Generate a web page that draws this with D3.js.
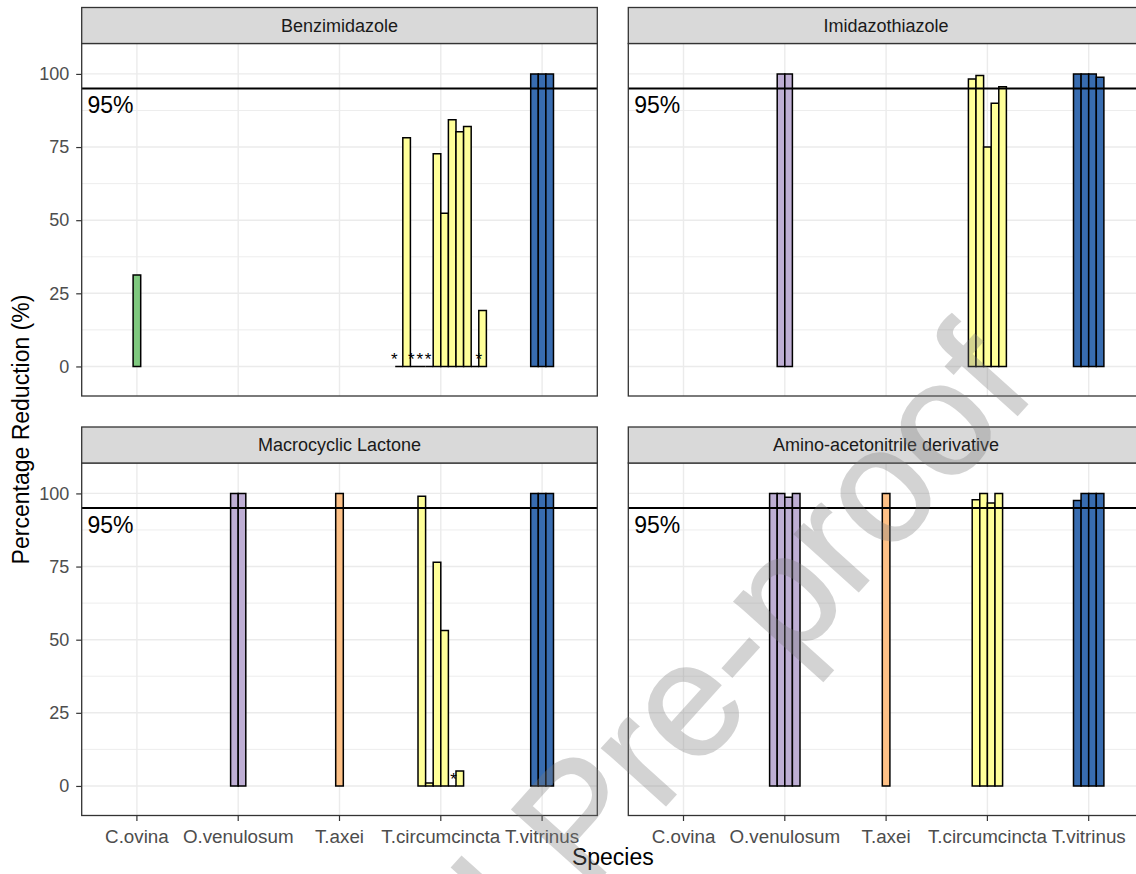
<!DOCTYPE html>
<html>
<head>
<meta charset="utf-8">
<script src="https://cdn.jsdelivr.net/npm/d3@7"></script>
<style>
  body { margin: 0; background: #fff; }
  svg { display: block; }
  text { font-family: "Liberation Sans", Arial, sans-serif; }
</style>
</head>
<body>
<svg id="chart" width="1136" height="874"></svg>
<script>
// ---- data -------------------------------------------------------------
const species = ["C.ovina", "O.venulosum", "T.axei", "T.circumcincta", "T.vitrinus"];
const speciesColours = ["#7FC97F", "#BEAED4", "#FDC086", "#FFFF99", "#386CB0"];
const drugClasses = ["Benzimidazole", "Imidazothiazole", "Macrocyclic Lactone", "Amino-acetonitrile derivative"];
const yTicks = [0, 25, 50, 75, 100];
const yMinorTicks = [12.5, 37.5, 62.5, 87.5];
const efficacyThreshold = 95;
const thresholdLabel = "95%";
const noReductionMark = "*";          // farms where no reduction was recorded
const maxFarmsPerSpecies = 12;

// Percentage reduction per farm, by species, for each drug class
const benzimidazole = {
  "C.ovina": [31.3],
  "T.circumcincta": [0, 78.2, 0, 0, 0, 72.7, 52.4, 84.3, 80.2, 82.0, 0, 19.1],
  "T.vitrinus": [100, 100, 100]
};
const imidazothiazole = {
  "O.venulosum": [100, 100],
  "T.circumcincta": [98.3, 99.5, 75.0, 90.0, 95.6],
  "T.vitrinus": [100, 100, 100, 98.9]
};
const macrocyclicLactone = {
  "O.venulosum": [100, 100],
  "T.axei": [100],
  "T.circumcincta": [99.0, 1.0, 76.5, 53.1, 0, 5.1],
  "T.vitrinus": [100, 100, 100]
};
const aminoAcetonitrile = {
  "O.venulosum": [100, 100, 98.7, 100],
  "T.axei": [100],
  "T.circumcincta": [97.8, 100, 96.7, 100],
  "T.vitrinus": [97.6, 100, 100, 100]
};
const panelValues = [benzimidazole, imidazothiazole, macrocyclicLactone, aminoAcetonitrile];

// ---- layout -----------------------------------------------------------
const colLeft = [81.7, 628.3];
const panelW = 515.6;
const stripTop = [7.5, 427];
const stripH = 36;
const panelH = 352.5;
const yDomain = [-10.1, 110.4];

const svg = d3.select("#chart");
svg.append("rect").attr("width", 1136).attr("height", 874).attr("fill", "#fff");

const colour = d3.scaleOrdinal().domain(species).range(speciesColours);

drugClasses.forEach((drug, p) => {
  const col = p % 2, row = Math.floor(p / 2);
  const x0 = colLeft[col];
  const top = stripTop[row] + stripH;
  const bottom = top + panelH;

  const x = d3.scaleBand().domain(species).range([x0, x0 + panelW])
    .paddingInner(0).paddingOuter(0.045);
  const y = d3.scaleLinear().domain(yDomain).range([bottom, top]);
  const step = x.step();
  const centre = s => x(s) + x.bandwidth() / 2;
  const barW = 0.9 * step / maxFarmsPerSpecies;

  const g = svg.append("g");

  // panel background and grid
  g.append("rect").attr("x", x0).attr("y", top).attr("width", panelW).attr("height", panelH)
    .attr("fill", "#fff");
  g.selectAll(".minor").data(yMinorTicks).join("line")
    .attr("x1", x0).attr("x2", x0 + panelW)
    .attr("y1", d => y(d)).attr("y2", d => y(d))
    .attr("stroke", "#EBEBEB").attr("stroke-width", 0.9);
  g.selectAll(".major").data(yTicks).join("line")
    .attr("x1", x0).attr("x2", x0 + panelW)
    .attr("y1", d => y(d)).attr("y2", d => y(d))
    .attr("stroke", "#EBEBEB").attr("stroke-width", 1.4);
  g.selectAll(".vmajor").data(species).join("line")
    .attr("x1", d => centre(d)).attr("x2", d => centre(d))
    .attr("y1", top).attr("y2", bottom)
    .attr("stroke", "#EBEBEB").attr("stroke-width", 1.4);

  // dodged bars, one per farm
  const bars = [];
  const marks = [];
  const vals = panelValues[p];
  species.forEach(s => {
    const arr = vals[s];
    if (!arr) return;
    const n = arr.length;
    const start = centre(s) - n * barW / 2;
    arr.forEach((v, i) => {
      bars.push({ s, v, xa: start + i * barW, xb: start + (i + 1) * barW });
      if (v === 0) marks.push({ s, xm: centre(s) + (i + 0.5 - n / 2) * step / maxFarmsPerSpecies });
    });
  });
  g.selectAll(".bar").data(bars).join("path")
    .attr("d", d => `M${d.xa},${y(0)}V${y(d.v)}H${d.xb}V${y(0)}Z`)
    .attr("fill", d => colour(d.s))
    .attr("stroke", "#000").attr("stroke-width", 1.5)
    .attr("stroke-linejoin", "miter");

  // efficacy threshold
  g.append("line")
    .attr("x1", x0).attr("x2", x0 + panelW)
    .attr("y1", y(efficacyThreshold)).attr("y2", y(efficacyThreshold))
    .attr("stroke", "#000").attr("stroke-width", 2);
  g.append("text")
    .attr("x", centre(species[0]) - 0.26 * step)
    .attr("y", y(89.4)).attr("dy", "0.36em")
    .attr("text-anchor", "middle")
    .style("font-size", "23px").attr("fill", "#000")
    .text(thresholdLabel);

  g.selectAll(".mark").data(marks).join("text")
    .attr("x", d => d.xm).attr("y", y(0) - 1)
    .attr("text-anchor", "middle")
    .style("font-size", "17px").attr("fill", "#000")
    .text(noReductionMark);

  // panel border
  g.append("rect").attr("x", x0).attr("y", top).attr("width", panelW).attr("height", panelH)
    .attr("fill", "none").attr("stroke", "#333333").attr("stroke-width", 1.3);

  // strip
  g.append("rect").attr("x", x0).attr("y", stripTop[row]).attr("width", panelW).attr("height", stripH)
    .attr("fill", "#D9D9D9").attr("stroke", "#333333").attr("stroke-width", 1.3);
  g.append("text")
    .attr("x", x0 + panelW / 2).attr("y", stripTop[row] + stripH / 2).attr("dy", "0.35em")
    .attr("text-anchor", "middle").style("font-size", "18px").attr("fill", "#1A1A1A")
    .text(drug);

  // axes
  if (col === 0) {
    const ya = g.append("g").attr("transform", `translate(${x0},0)`)
      .call(d3.axisLeft(y).tickValues(yTicks).tickSize(5.5).tickPadding(7));
    ya.select(".domain").remove();
    ya.selectAll("line").attr("stroke", "#333333").attr("stroke-width", 1.2);
    ya.selectAll("text").style("font-size", "18px").attr("fill", "#4D4D4D");
  }
  if (row === 1) {
    const xa = g.append("g").attr("transform", `translate(0,${bottom})`)
      .call(d3.axisBottom(x).tickSize(5.5).tickPadding(9));
    xa.select(".domain").remove();
    xa.selectAll("line").attr("stroke", "#333333").attr("stroke-width", 1.2);
    xa.selectAll("text").style("font-size", "18.8px").attr("fill", "#4D4D4D");
  }
});

// axis titles
svg.append("text")
  .attr("x", colLeft[0] + (colLeft[1] + panelW - colLeft[0]) / 2).attr("y", 865)
  .attr("text-anchor", "middle").style("font-size", "23px").attr("fill", "#000")
  .text("Species");
svg.append("text")
  .attr("transform", `translate(29,${(stripTop[0] + stripH + stripTop[1] + stripH + panelH) / 2}) rotate(-90)`)
  .attr("text-anchor", "middle").style("font-size", "23px").attr("fill", "#000")
  .text("Percentage Reduction (%)");

// watermark
svg.append("text")
  .attr("transform", "translate(1038,392) rotate(-48)")
  .attr("text-anchor", "end")
  .style("font-size", "162px")
  .attr("fill", "#7a7a7a")
  .attr("stroke", "#7a7a7a").attr("stroke-width", 2)
  .attr("opacity", 0.32)
  .text("Journal Pre-proof");
</script>
</body>
</html>
